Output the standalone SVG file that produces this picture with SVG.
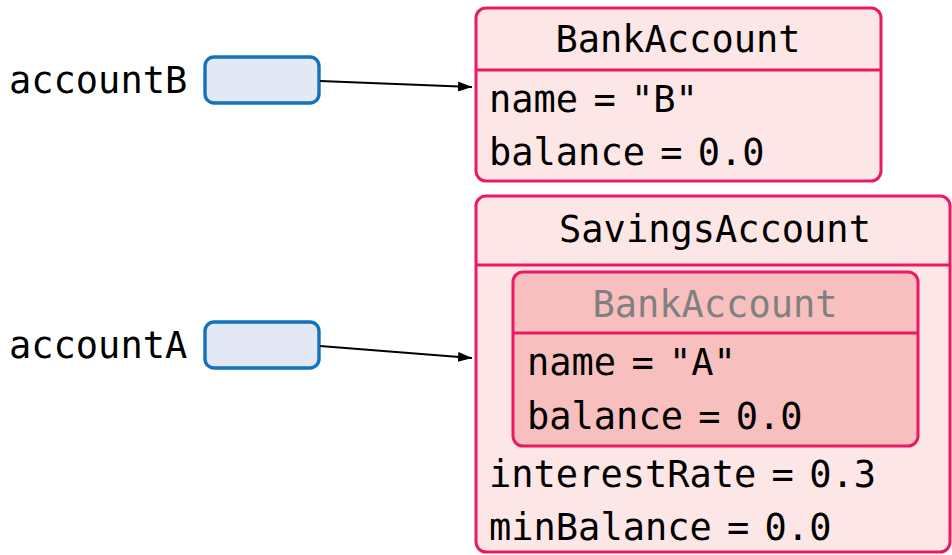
<svg xmlns="http://www.w3.org/2000/svg" width="952" height="555" viewBox="0 0 952 555">
  <style>
    text { font-family: "DejaVu Sans Mono", "Liberation Mono", monospace; font-size: 37px; fill: #000; word-spacing: -7px; }
    .title { text-anchor: middle; }
    .ghost { fill: #808080; }
    .obj { fill: #fde6e6; stroke: #ec1863; stroke-width: 3; }
    .inner { fill: #f8bfbf; stroke: #ec1863; stroke-width: 3; }
    .sep { stroke: #ec1863; stroke-width: 3; }
    .ref { fill: #e2e8f4; stroke: #1272bb; stroke-width: 3.4; }
    .link { stroke: #000; stroke-width: 2; fill: none; marker-end: url(#arrow); }
  </style>
  <defs>
    <marker id="arrow" viewBox="0 0 14 10" refX="14" refY="5" markerWidth="14" markerHeight="10" markerUnits="userSpaceOnUse" orient="auto">
      <path d="M0,0 L14,5 L0,10 Z" fill="#000"/>
    </marker>
  </defs>

  <!-- variables -->
  <g id="var-accountB">
    <text x="9" y="93">accountB</text>
    <rect class="ref" x="205" y="57" width="114" height="46" rx="9"/>
  </g>
  <g id="var-accountA">
    <text x="9" y="358">accountA</text>
    <rect class="ref" x="205" y="322" width="114" height="46" rx="9"/>
  </g>

  <!-- BankAccount instance -->
  <g id="obj-bank-b">
    <rect class="obj" x="476" y="8" width="405" height="173" rx="10"/>
    <line class="sep" x1="476" y1="70" x2="881" y2="70"/>
    <text class="title" x="678" y="52">BankAccount</text>
    <text x="489" y="112">name = "B"</text>
    <text x="489" y="165">balance = 0.0</text>
  </g>

  <!-- SavingsAccount instance with inherited part -->
  <g id="obj-savings-a">
    <rect class="obj" x="476" y="196" width="474" height="356" rx="10"/>
    <line class="sep" x1="476" y1="265" x2="950" y2="265"/>
    <text class="title" x="715" y="242">SavingsAccount</text>
    <g id="obj-savings-a-base">
      <rect class="inner" x="513" y="272" width="405" height="174" rx="10"/>
      <line class="sep" x1="513" y1="333" x2="918" y2="333"/>
      <text class="title ghost" x="715" y="317">BankAccount</text>
      <text x="527" y="375">name = "A"</text>
      <text x="527" y="429">balance = 0.0</text>
    </g>
    <text x="489" y="487">interestRate = 0.3</text>
    <text x="489" y="540">minBalance = 0.0</text>
  </g>

  <!-- references -->
  <g id="connectors">
    <line class="link" x1="320" y1="81" x2="472" y2="87"/>
    <line class="link" x1="320" y1="346" x2="472" y2="358"/>
  </g>
</svg>
